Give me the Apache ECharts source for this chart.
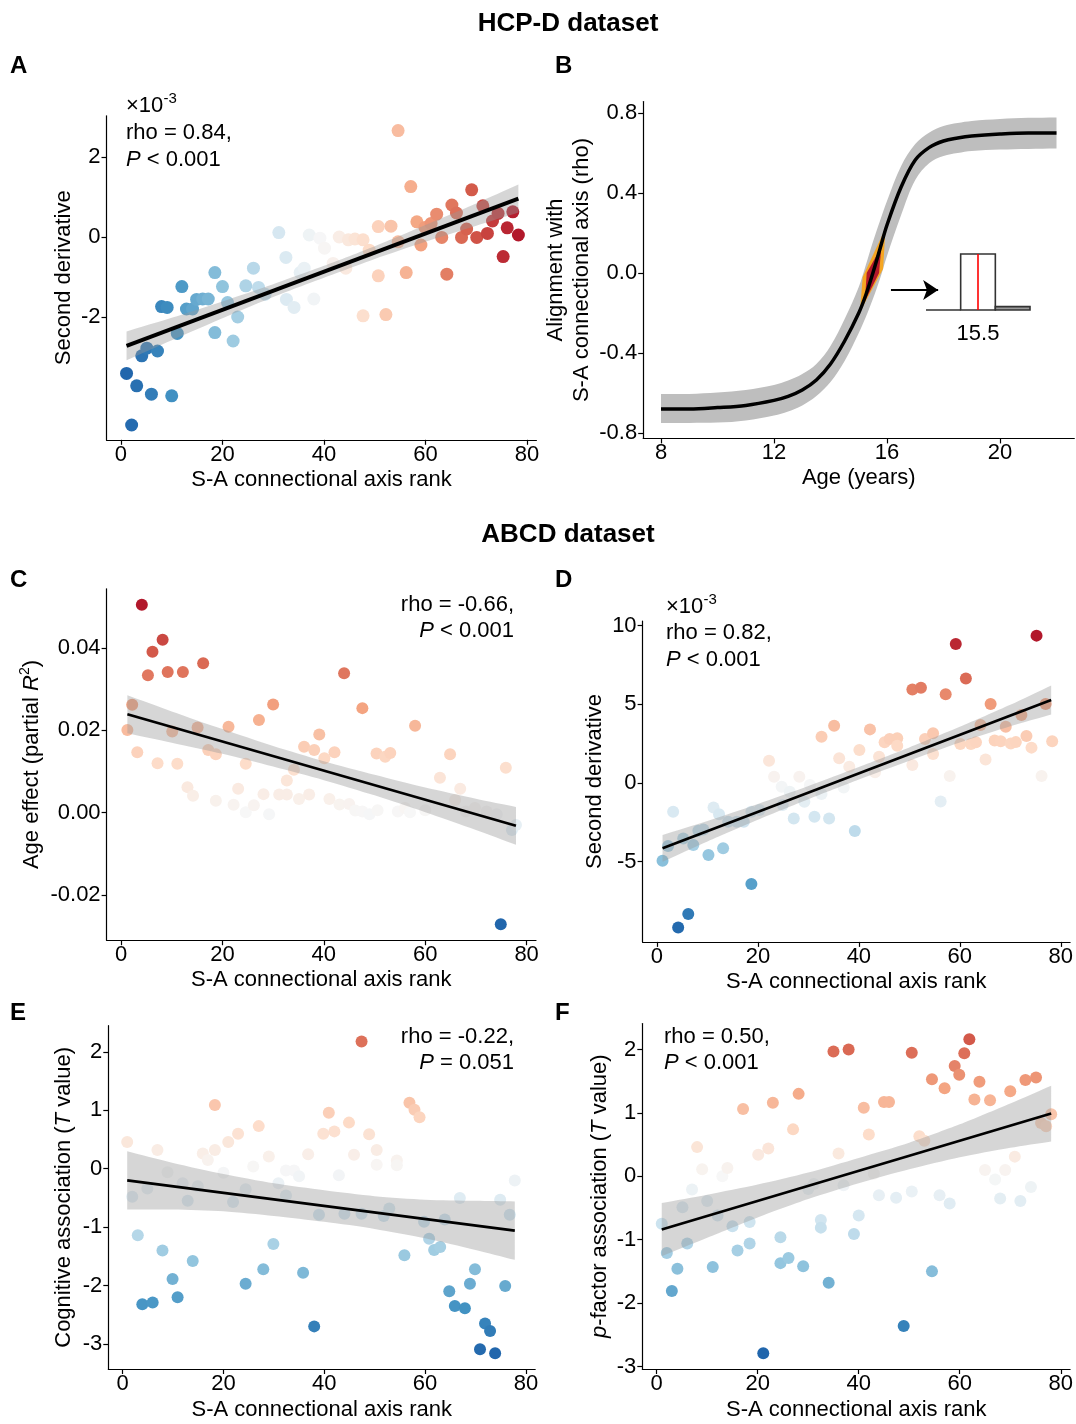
<!DOCTYPE html>
<html><head><meta charset="utf-8">
<script src="https://cdn.jsdelivr.net/npm/echarts@6/dist/echarts.min.js"></script>
<style>html,body{margin:0;padding:0;background:#fff}#c{width:1076px;height:1424px}</style>
</head><body><div id="c"></div>
<script>
// ---------- Panel A (HCP-D, second derivative vs S-A rank) ----------
const aX = [1.1,2.1,3.1,4.1,5.1,6.0,7.2,8.0,9.1,10.0,11.1,12.0,12.9,14.1,14.9,16.1,17.2,18.5,18.5,20.0,21.0,22.1,23.0,24.6,26.1,27.1,28.4,31.1,32.5,32.6,34.1,35.3,36.1,37.1,38.0,39.2,40.1,41.8,43.0,44.3,44.8,46.1,47.7,47.7,48.9,50.7,50.7,52.2,53.2,54.6,54.6,56.2,57.1,58.3,59.1,59.9,61.1,62.2,63.2,64.2,65.2,66.1,67.1,68.1,69.1,70.1,71.3,72.2,73.2,74.3,75.3,76.1,77.2,78.3];
const aY = [-3.41,-4.7,-3.72,-2.97,-2.78,-3.93,-2.85,-1.74,-1.76,-3.97,-2.41,-1.24,-1.8,-1.8,-1.56,-1.55,-1.55,-0.89,-2.39,-1.24,-1.64,-2.6,-2.0,-1.22,-0.78,-1.26,-1.43,0.11,-0.51,-1.56,-1.76,-0.89,-0.78,0.05,-1.55,-0.03,-0.28,-0.66,0.0,-0.78,-0.07,-0.05,-0.07,-1.97,-0.33,0.26,-0.97,-1.94,0.27,2.66,-0.12,-0.89,1.26,0.38,-0.2,0.24,0.34,0.57,-0.01,-0.93,0.8,0.6,-0.01,0.2,1.18,-0.01,0.78,0.09,0.4,0.59,-0.49,0.23,0.63,0.05];
const aFitX = [1.1, 78.3];
const aFitY = [-2.72, 0.96];
const aBandX = [1.1,10,20,30,40,50,60,70,78.3];
const aBandLo = [-3.08,-2.58,-2.03,-1.50,-1.02,-0.55,-0.12,0.28,0.61];
const aBandHi = [-2.36,-2.02,-1.61,-1.18,-0.72,-0.23,0.30,0.84,1.31];

// ---------- Panel B (alignment with S-A axis across age) ----------
const bAge   = [8,9,10,11,12,12.5,13,13.5,14,14.5,15,15.25,15.5,15.75,16,16.5,17,17.5,18,18.5,19,20,21,22];
const bMean  = [-0.68,-0.68,-0.673,-0.662,-0.637,-0.617,-0.585,-0.535,-0.455,-0.34,-0.20,-0.11,0.0,0.12,0.24,0.43,0.565,0.628,0.66,0.675,0.685,0.695,0.70,0.70];
const bUpper = [-0.605,-0.605,-0.598,-0.585,-0.56,-0.538,-0.505,-0.455,-0.365,-0.23,-0.07,0.04,0.155,0.26,0.36,0.535,0.645,0.703,0.735,0.75,0.76,0.77,0.776,0.778];
const bLower = [-0.75,-0.75,-0.748,-0.737,-0.712,-0.692,-0.662,-0.615,-0.545,-0.44,-0.30,-0.22,-0.13,-0.03,0.085,0.29,0.465,0.55,0.585,0.6,0.61,0.617,0.62,0.622];
const orangeAge = [15.95,15.86,15.04,15.14];
const orangeVal = [0.225,0.02,-0.195,-0.02];
const redAge = [15.80,15.72,15.22,15.28];
const redVal = [0.13,0.0,-0.14,0.0];
const arrowFrom = [16.14,-0.085];
const arrowTo = [17.81,-0.085];
const histStart = [14,15,16];
const histEnd = [15,16,17];
const histCount = [0,1,0.06];
const crossAge = 15.5;

// ---------- Panel C (ABCD, age effect) ----------
const cX = [4.1,6.2,8.2,5.3,9.2,12.2,16.2,44.0,2.2,1.25,3.2,7.2,10.1,11.1,13.1,14.2,15.1,17.2,18.7,18.7,21.2,22.2,23.1,24.6,24.6,26.2,27.2,28.1,29.2,30.0,31.2,32.7,32.7,34.1,35.1,36.1,37.1,38.1,39.1,40.1,41.1,42.1,43.1,45.0,46.2,47.6,47.6,49.0,50.4,50.6,52.1,53.1,54.6,56.0,57.0,58.0,60.0,62.9,64.9,65.9,66.9,68.0,69.8,72.1,74.1,74.9,75.9,77.1,77.9];
const cY = [0.0505,0.0391,0.042,0.0334,0.0342,0.0342,0.0363,0.0339,0.0262,0.0201,0.0147,0.012,0.0197,0.0119,0.0062,0.0041,0.0207,0.0152,0.0142,0.0029,0.0209,0.0019,0.0058,0.0119,0.0001,0.0018,0.0225,0.0045,-0.0004,0.0263,0.0044,0.0044,0.0078,0.0104,0.0033,0.016,0.0044,0.0152,0.019,0.0132,0.0033,0.0147,0.002,0.0021,0.0005,0.0254,0.0003,-0.0004,0.0144,0.0006,0.0136,0.0145,0.0003,0.0011,0.0001,0.0211,0.0006,0.0085,0.0142,0.0031,0.0058,0.0003,0.0011,0.0003,-0.0004,-0.0271,0.0109,-0.0042,-0.003];
const cFitX = [1.25, 77.9];
const cFitY = [0.0239, -0.0032];
const cBandX = [1.25,10,20,30,40,50,60,70,77.9];
const cBandLo = [0.0193,0.0170,0.0143,0.0112,0.0079,0.0042,0.0001,-0.0042,-0.0078];
const cBandHi = [0.0285,0.0246,0.0203,0.0162,0.0125,0.0092,0.0061,0.0034,0.0014];

// ---------- Panel D (ABCD, second derivative) ----------
const dX = [1.1,2.2,3.2,4.2,5.2,6.2,7.2,8.2,9.2,10.2,11.2,12.3,13.1,14.1,15.8,17.2,18.7,18.7,20.3,22.2,23.2,24.7,24.9,26.3,27.1,28.2,29.2,30.3,31.2,32.6,32.6,34.1,35.1,36.1,37.0,38.1,39.2,40.1,42.2,43.2,44.0,45.1,46.1,47.6,47.6,50.6,50.6,52.3,53.1,54.7,54.7,56.2,57.2,58.0,59.2,60.1,61.2,62.2,63.2,64.1,65.1,66.1,66.9,68.1,69.1,70.1,71.1,72.2,73.2,74.2,75.2,76.2,77.0,78.3];
const dY = [-4.94,-4.0,-1.82,-9.18,-3.52,-8.33,-3.94,-3.03,-2.95,-4.58,-1.55,-1.99,-4.15,-2.46,-2.46,-2.46,-6.42,-1.82,-1.72,1.42,0.4,-0.23,-1.4,-0.55,-2.25,0.4,-1.19,-0.13,-2.14,-0.7,2.94,-2.25,3.64,1.57,-0.28,1.04,-3.05,2.1,3.41,0.68,1.67,2.59,2.8,2.84,2.37,5.95,1.14,6.06,2.8,3.16,1.84,-1.17,5.64,0.45,8.84,2.48,6.65,2.48,2.59,3.69,1.5,5.02,2.7,2.65,3.58,2.52,2.6,4.32,2.99,2.25,9.37,0.45,5.02,2.66];
const dFitX = [1.1, 78.1];
const dFitY = [-4.15, 5.28];
const dBandX = [1.1,10,20,30,40,50,60,70,78.1];
const dBandLo = [-5.0,-3.71,-2.33,-1.03,0.22,1.42,2.57,3.61,4.36];
const dBandHi = [-3.3,-2.41,-1.33,-0.19,1.02,2.26,3.57,4.97,6.2];

// ---------- Panel E (ABCD, cognitive association) ----------
const eX = [0.9,1.9,3.0,3.9,4.9,5.95,6.9,7.9,8.9,9.9,10.9,11.9,12.9,13.9,14.9,15.9,16.9,18.3,18.3,20.0,20.95,21.9,22.9,24.4,24.4,25.9,27.0,27.9,29.0,29.9,30.9,32.4,32.4,34.0,35.0,35.8,36.8,38.0,38.95,39.8,40.9,42.0,42.9,44.0,44.9,45.9,47.4,47.4,48.9,50.4,50.4,51.8,52.9,54.4,54.4,55.9,56.9,57.9,58.9,59.8,60.8,61.8,63.0,63.9,64.8,65.9,66.9,67.9,68.9,69.9,70.9,71.9,72.9,73.9,74.9,75.9,76.8,77.8];
const eY = [0.46,-0.48,-1.14,-2.32,-0.34,-2.29,0.32,-1.4,-0.06,-1.89,-2.2,-0.25,-0.55,-1.58,-0.3,0.26,0.15,1.09,0.32,-0.07,0.46,-0.57,0.6,-0.35,-1.97,0.04,0.73,-1.72,0.21,-1.29,-0.25,-0.46,-0.03,-0.03,-0.13,-1.78,0.25,-2.7,-0.79,0.6,0.96,0.64,-0.11,-0.77,0.79,0.24,2.18,-0.77,0.59,0.32,0.07,-0.81,-0.68,0.14,0.06,-1.48,1.13,1.01,0.88,-0.91,-1.2,-1.39,-1.34,-0.87,-2.1,-2.35,-0.5,-2.39,-1.97,-1.72,-3.09,-2.65,-2.78,-3.16,-0.53,-2.01,-0.79,-0.2];
const eFitX = [0.9, 77.8];
const eFitY = [-0.2, -1.06];
const eBandX = [0.9,10,20,30,40,50,60,70,77.8];
const eBandLo = [-0.7,-0.70,-0.73,-0.81,-0.91,-1.03,-1.19,-1.39,-1.56];
const eBandHi = [0.3,0.10,-0.09,-0.25,-0.37,-0.47,-0.53,-0.55,-0.56];

// ---------- Panel F (ABCD, p-factor association) ----------
const fX = [1.0,2.0,3.0,4.1,5.1,6.05,7.0,8.0,9.0,10.0,11.1,12.05,13.0,14.0,15.0,16.0,17.1,18.4,18.4,20.1,21.1,22.1,23.0,24.5,24.5,26.1,27.0,28.1,29.0,30.0,31.1,32.5,32.5,34.05,35.0,36.0,37.0,38.0,39.05,40.0,41.0,42.0,43.0,44.0,45.0,46.0,47.4,48.9,50.5,50.5,52.0,53.0,54.5,54.5,56.0,57.0,58.0,59.0,59.9,60.9,61.9,62.9,63.9,65.0,66.0,67.0,68.0,69.0,70.0,70.9,72.0,73.0,74.1,75.1,76.1,77.1,78.1];
const fY = [-0.75,-1.21,-1.81,-1.46,-0.49,-1.06,-0.21,0.46,0.11,-0.39,-1.43,-0.62,0.0,0.13,-0.79,-1.17,1.06,-1.06,-0.72,0.34,-2.79,0.44,1.16,-1.37,-0.96,-1.29,0.74,1.3,-1.42,-0.2,-0.12,-0.69,-0.81,-1.68,1.97,0.36,-0.14,2.0,-0.91,-0.62,1.08,0.66,0.04,-0.3,1.17,1.17,-0.34,-2.36,1.95,-0.24,0.63,0.56,1.53,-1.5,-0.3,1.39,-0.43,1.74,1.6,1.94,2.16,1.21,1.49,0.1,1.2,-0.05,-0.35,0.1,1.34,0.31,-0.39,1.52,-0.17,1.56,0.84,0.79,0.98];
const fFitX = [1.0, 78.1];
const fFitY = [-0.84, 0.99];
const fBandX = [1.0,10,20,30,40,50,60,70,78.1];
const fBandLo = [-1.26,-0.97,-0.65,-0.36,-0.11,0.11,0.30,0.45,0.55];
const fBandHi = [-0.42,-0.29,-0.13,0.06,0.29,0.53,0.82,1.15,1.43];

// ---------- tick labels ----------
const rankTicks = [0,20,40,60,80];
const ageTicks = [8,12,16,20];
const aTicks = [-2,0,2];
const bTicks = [-0.8,-0.4,0,0.4,0.8];
const cTicks = [-0.02,0,0.02,0.04];
const dTicks = [-5,0,5,10];
const eTicks = [-3,-2,-1,0,1,2];
const fTicks = [-3,-2,-1,0,1,2];

// ---------- helpers ----------
const FONT = "'Liberation Sans', Arial, Helvetica, sans-serif";
const palette = ['#2166AC','#4393C3','#92C5DE','#D1E5F0','#F7F7F7','#FDDBC7','#F4A582','#D6604D','#B2182B'];
const PAL = palette.map(h => [parseInt(h.slice(1,3),16), parseInt(h.slice(3,5),16), parseInt(h.slice(5,7),16)]);
function ramp(v, lo, mid, hi) {
  let t = v < mid ? 0.5 * (v - lo) / (mid - lo) : 0.5 + 0.5 * (v - mid) / (hi - mid);
  t = Math.max(0, Math.min(1, t));
  const s = t * (PAL.length - 1);
  const i = Math.min(PAL.length - 2, Math.floor(s));
  const f = s - i;
  const c = PAL[i].map((a, k) => Math.round(a + (PAL[i + 1][k] - a) * f));
  return 'rgb(' + c.join(',') + ')';
}
const zip = (xs, ys) => xs.map((x, i) => [x, ys[i]]);

const NAME_RICH = {
  i: {fontStyle: 'italic', fontSize: 22, fontFamily: FONT, color: '#000', lineHeight: 26},
  s: {fontSize: 14, fontFamily: FONT, color: '#000', verticalAlign: 'top', lineHeight: 14}
};

function valAxis(gi, min, max, ticks, fmt, name, gap) {
  return {
    type: 'value', gridIndex: gi, min: min, max: max, z: 10,
    name: name || '', nameLocation: 'middle', nameGap: gap || 30,
    nameTextStyle: {fontSize: 22, fontFamily: FONT, color: '#000', lineHeight: 26, rich: NAME_RICH},
    axisLine: {show: true, onZero: false, lineStyle: {color: '#000', width: 1.2}},
    axisTick: {show: true, length: 5, customValues: ticks, lineStyle: {color: '#000', width: 1.2}},
    axisLabel: {show: true, customValues: ticks, fontSize: 22, fontFamily: FONT, color: '#000', margin: 6,
      formatter: fmt || (v => String(v))},
    splitLine: {show: false}
  };
}

function scatterSeries(gi, xs, ys, size, colorFn) {
  return {type: 'scatter', xAxisIndex: gi, yAxisIndex: gi, data: zip(xs, ys), symbolSize: size,
    itemStyle: {color: p => colorFn(p.value), opacity: 1}, z: 2, silent: true, animation: false};
}
// confidence band drawn as one polygon: upper edge forward, lower edge back.
// End vertices are doubled so that smoothing keeps the vertical end cuts straight.
function bandPoly(gi, bx, lo, hi, color, z, smooth) {
  return {type: 'custom', xAxisIndex: gi, yAxisIndex: gi, data: [[bx[0], lo[0]]], z: z || 3, silent: true, animation: false,
    renderItem: (params, api) => {
      const n = bx.length;
      const up = bx.map((x, i) => api.coord([x, hi[i]]));
      const dn = bx.map((x, i) => api.coord([x, lo[i]])).reverse();
      const pts = [up[0]].concat(up, [up[n - 1]], [dn[0]], dn, [dn[n - 1]]);
      return {type: 'polygon', shape: {points: pts, smooth: smooth || 0}, style: {fill: color}};
    }};
}
function fitSeries(gi, xs, ys, width) {
  return {type: 'line', xAxisIndex: gi, yAxisIndex: gi, data: zip(xs, ys), symbol: 'none', showSymbol: false,
    lineStyle: {color: '#000', width: width}, z: 4, silent: true, animation: false};
}
function polySeries(gi, ages, vals, color, z) {
  return {type: 'custom', xAxisIndex: gi, yAxisIndex: gi, data: [[ages[0], vals[0]]], z: z, silent: true, animation: false,
    renderItem: (params, api) => ({
      type: 'polygon',
      shape: {points: ages.map((a, i) => api.coord([a, vals[i]]))},
      style: {fill: color}
    })};
}

const BANDCOL = 'rgba(153,153,153,0.4)';
const fmt1 = v => v.toFixed(1);
const fmt2 = v => v.toFixed(2);

const grids = [
  {left: 106.5, top: 115.8, width: 429.9, height: 324},     // A
  {left: 643.2, top: 101.6, width: 431.1, height: 336.8},   // B
  {left: 106.6, top: 588.8, width: 429.4, height: 351.4},   // C
  {left: 642.6, top: 621, width: 427.7, height: 320.9},     // D
  {left: 108.3, top: 1025.7, width: 426.9, height: 350.3},  // E
  {left: 642.3, top: 1023.5, width: 428.6, height: 351.7},  // F
  {left: 926, top: 254, width: 104, height: 56}             // inset histogram
];

const xAxes = [
  valAxis(0, -2.85, 81.85, rankTicks, null, 'S-A connectional axis rank', 24),
  valAxis(1, 7.37, 22.63, ageTicks, null, 'Age (years)', 26),
  valAxis(2, -2.85, 81.85, rankTicks, null, 'S-A connectional axis rank', 25),
  valAxis(3, -2.85, 81.85, rankTicks, null, 'S-A connectional axis rank', 23),
  valAxis(4, -2.85, 81.85, rankTicks, null, 'S-A connectional axis rank', 28),
  valAxis(5, -2.85, 81.85, rankTicks, null, 'S-A connectional axis rank', 28),
  {type: 'value', gridIndex: 6, min: 14, max: 17, axisLine: {show: false}, axisTick: {show: false}, splitLine: {show: false},
    axisLabel: {customValues: [crossAge], formatter: v => v.toFixed(1), fontSize: 22, fontFamily: FONT, color: '#000', margin: 13}}
];
xAxes.forEach((a, i) => { if (i < 6) a.axisLabel.margin = 4; });

const yAxes = [
  valAxis(0, -5.07, 3.03, aTicks, null, 'Second derivative', 27),
  valAxis(1, -0.827, 0.857, bTicks, fmt1, 'Alignment with\nS-A connectional axis (rho)', 44),
  valAxis(2, -0.031, 0.0544, cTicks, fmt2, 'Age effect (partial {i|R}{s|2})', 62),
  valAxis(3, -10.1, 10.3, dTicks, null, 'Second derivative', 29),
  valAxis(4, -3.43, 2.45, eTicks, null, 'Cognitive association ({i|T} value)', 31),
  valAxis(5, -3.04, 2.41, fTicks, null, '{i|p}-factor association ({i|T} value)', 28),
  {type: 'value', gridIndex: 6, min: 0, max: 1, show: false, splitLine: {show: false}}
];

const series = [];
// A
series.push(scatterSeries(0, aX, aY, 13, v => ramp(v[0], 1, 39.5, 78)));
series.push(bandPoly(0, aBandX, aBandLo, aBandHi, BANDCOL, 3, 0.25));
series.push(fitSeries(0, aFitX, aFitY, 4));
// B
series.push(bandPoly(1, bAge, bLower, bUpper, '#BEBEBE', 1, 0.35));
series.push(polySeries(1, orangeAge, orangeVal, '#F5A623', 3));
series.push(polySeries(1, redAge, redVal, '#B2182B', 3.5));
series.push({type: 'line', xAxisIndex: 1, yAxisIndex: 1, data: zip(bAge, bMean), symbol: 'none', showSymbol: false,
  smooth: 0.35, lineStyle: {color: '#000', width: 3.5}, z: 5, silent: true, animation: false,
  markLine: {silent: true, symbol: ['none', 'arrow'], symbolSize: 15, animation: false,
    lineStyle: {color: '#000', width: 2.2, type: 'solid'}, label: {show: false}, emphasis: {disabled: true},
    data: [[{coord: arrowFrom}, {coord: arrowTo}]]}});
// C
series.push(scatterSeries(2, cX, cY, 12, v => ramp(v[1], -0.0271, 0, 0.0505)));
series.push(bandPoly(2, cBandX, cBandLo, cBandHi, BANDCOL, 3, 0.25));
series.push(fitSeries(2, cFitX, cFitY, 2.7));
// D
series.push(scatterSeries(3, dX, dY, 12, v => ramp(v[1], -9.37, 0, 9.37)));
series.push(bandPoly(3, dBandX, dBandLo, dBandHi, BANDCOL, 3, 0.25));
series.push(fitSeries(3, dFitX, dFitY, 2.7));
// E
series.push(scatterSeries(4, eX, eY, 12, v => ramp(v[1], -3.16, 0, 3.16)));
series.push(bandPoly(4, eBandX, eBandLo, eBandHi, BANDCOL, 3, 0.25));
series.push(fitSeries(4, eFitX, eFitY, 2.7));
// F
series.push(scatterSeries(5, fX, fY, 12, v => ramp(v[1], -2.79, 0, 2.79)));
series.push(bandPoly(5, fBandX, fBandLo, fBandHi, BANDCOL, 3, 0.25));
series.push(fitSeries(5, fFitX, fFitY, 2.7));
// inset histogram
series.push({type: 'custom', xAxisIndex: 6, yAxisIndex: 6, silent: true, animation: false, z: 6,
  data: histStart.map((s, i) => [s, histEnd[i], histCount[i]]),
  encode: {x: [0, 1], y: 2},
  renderItem: (params, api) => {
    const s = api.value(0), e = api.value(1), c = api.value(2);
    const p0 = api.coord([s, c]), p1 = api.coord([e, 0]);
    return {type: 'rect', shape: {x: p0[0], y: p0[1], width: p1[0] - p0[0], height: p1[1] - p0[1]},
      style: {fill: c < 0.5 ? '#9a9a9a' : '#fff', stroke: '#333', lineWidth: 1.6}};
  }});
series.push({type: 'line', xAxisIndex: 6, yAxisIndex: 6, data: [[crossAge, 0], [crossAge, 1]], symbol: 'none', showSymbol: false,
  lineStyle: {color: '#FF0000', width: 1.6}, z: 7, silent: true, animation: false});

// ---------- text annotations ----------
const TXT_RICH = {i: {fontStyle: 'italic', fontSize: 22, fontFamily: FONT}};
function txt(x, y, text, o) {
  o = o || {};
  return {type: 'text', x: x, y: y, z: 100, silent: true,
    style: {text: text, fill: '#000', font: (o.weight || 'normal') + ' ' + (o.size || 22) + 'px ' + FONT,
      fontSize: o.size || 22, fontFamily: FONT, fontWeight: o.weight || 'normal',
      textAlign: o.align || 'left', textVerticalAlign: 'middle', rich: TXT_RICH}};
}
const graphics = [
  txt(568, 24, 'HCP-D dataset', {weight: 'bold', size: 26, align: 'center'}),
  txt(568, 535, 'ABCD dataset', {weight: 'bold', size: 26, align: 'center'}),
  txt(10, 66, 'A', {weight: 'bold', size: 24}),
  txt(555, 66, 'B', {weight: 'bold', size: 24}),
  txt(10, 580, 'C', {weight: 'bold', size: 24}),
  txt(555, 580, 'D', {weight: 'bold', size: 24}),
  txt(10, 1013, 'E', {weight: 'bold', size: 24}),
  txt(555, 1013, 'F', {weight: 'bold', size: 24}),
  // A
  txt(126, 106, '\u00d710'), txt(163.5, 99, '-3', {size: 15}),
  txt(126, 133, 'rho = 0.84,'), txt(126, 160, '{i|P} < 0.001'),
  // C
  txt(514, 605, 'rho = -0.66,', {align: 'right'}), txt(514, 631, '{i|P} < 0.001', {align: 'right'}),
  // D
  txt(666, 607, '\u00d710'), txt(703.5, 600, '-3', {size: 15}),
  txt(666, 633, 'rho = 0.82,'), txt(666, 660, '{i|P} < 0.001'),
  // E
  txt(514, 1037, 'rho = -0.22,', {align: 'right'}), txt(514, 1063, '{i|P} = 0.051', {align: 'right'}),
  // F
  txt(664, 1037, 'rho = 0.50,'), txt(664, 1063, '{i|P} < 0.001')
];

const chart = echarts.init(document.getElementById('c'), null, {renderer: 'canvas'});
chart.setOption({
  animation: false,
  backgroundColor: '#fff',
  textStyle: {fontFamily: FONT},
  grid: grids,
  xAxis: xAxes,
  yAxis: yAxes,
  series: series,
  graphic: {elements: graphics}
});
</script>
</body></html>
